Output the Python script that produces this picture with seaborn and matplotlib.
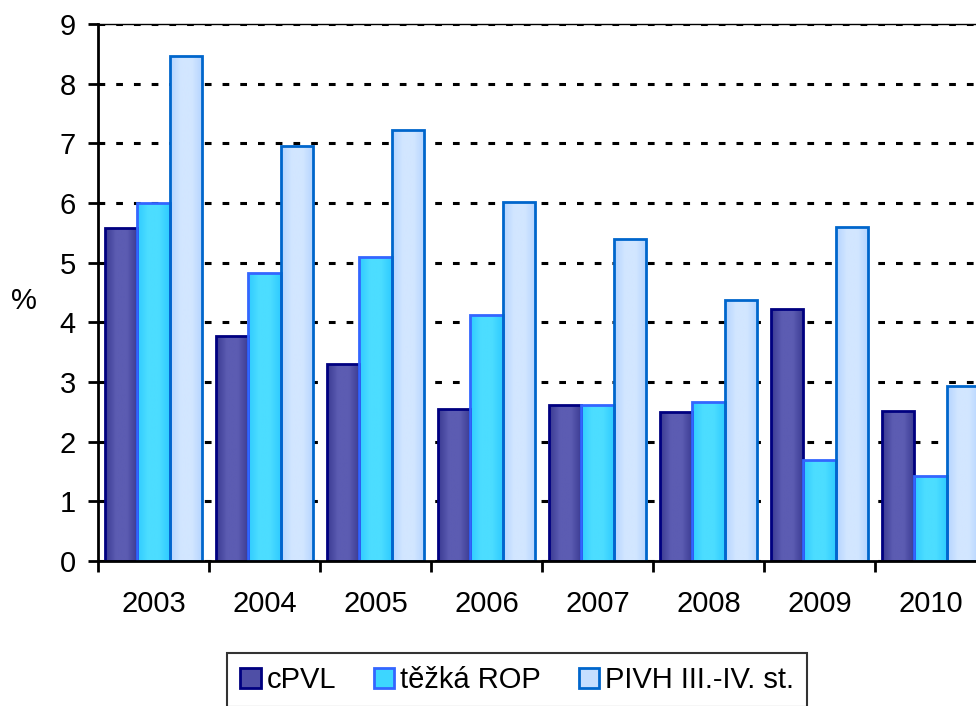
import matplotlib
matplotlib.use('Agg')
import matplotlib.pyplot as plt
from matplotlib.colors import LinearSegmentedColormap
import numpy as np
import pandas as pd
import seaborn as sns

## data ##
years = ['2003', '2004', '2005', '2006', '2007', '2008', '2009', '2010']
series = ['cPVL', 'těžká ROP', 'PIVH III.-IV. st.']
cpvl = [5.58, 3.77, 3.30, 2.55, 2.61, 2.50, 4.22, 2.51]
tezka_rop = [6.00, 4.83, 5.09, 4.13, 2.61, 2.66, 1.69, 1.42]
pivh = [8.46, 6.95, 7.22, 6.02, 5.40, 4.37, 5.60, 2.93]

df = pd.DataFrame({
    'rok': years * 3,
    'serie': [series[0]] * 8 + [series[1]] * 8 + [series[2]] * 8,
    'hodnota': cpvl + tezka_rop + pivh,
})

## style ##
sns.set_style('white')
plt.rcParams['font.family'] = ['Liberation Sans', 'DejaVu Sans']
plt.rcParams['text.color'] = 'black'
plt.rcParams['xtick.color'] = 'black'
plt.rcParams['ytick.color'] = 'black'
plt.rcParams['axes.labelcolor'] = 'black'
fill_colors = ['#4F4FA6', '#3DD6FF', '#C6DEFF']
edge_colors = ['#000080', '#3366FF', '#0066CC']
# edge -> centre -> edge shading of each bar
grad_colors = [('#3A3A92', '#5C5CB2'), ('#2FCBFF', '#4CDDFF'), ('#B4D4FF', '#D2E6FF')]
fs = 21

fig = plt.figure(figsize=(9.76, 7.06), dpi=100)
# plot area runs past the right edge of the picture, as in the original
ax = fig.add_axes([98 / 976, 145 / 706, 888 / 976, 537 / 706])

sns.barplot(data=df, x='rok', y='hodnota', hue='serie', hue_order=series,
            palette=fill_colors, width=0.875, gap=0, legend=True, ax=ax,
            saturation=1, errorbar=None)

ax.set_ylim(0, 9)
ax.set_xlim(-0.5, len(years) - 0.5)

# edge colours and horizontal gradient per series
for container, ec, (c_out, c_in) in zip(ax.containers, edge_colors, grad_colors):
    cmap = LinearSegmentedColormap.from_list('g', [c_out, c_in, c_in, c_out])
    for bar in container:
        bar.set_edgecolor(ec)
        bar.set_linewidth(2)
        x0, y0 = bar.get_x(), bar.get_y()
        w, h = bar.get_width(), bar.get_height()
        im = ax.imshow(np.linspace(0, 1, 64).reshape(1, -1), cmap=cmap, aspect='auto',
                       extent=[x0, x0 + w, y0, y0 + h], zorder=bar.get_zorder() - 0.01)
        im.set_clip_path(bar)
        bar.set_facecolor('none')
        bar.set_zorder(bar.get_zorder() + 0.01)

ax.set_ylim(0, 9)
ax.set_xlim(-0.5, len(years) - 0.5)
ax.set_aspect('auto')
ax.set_yticks(np.arange(0, 10, 1))
ax.set_yticklabels([str(i) for i in range(10)], fontsize=fs)

# ticks at group boundaries, labels at group centres
ax.set_xticks(np.arange(-0.5, len(years), 1))
ax.set_xticklabels([])
ax.set_xticks(np.arange(len(years)), minor=True)
ax.set_xticklabels(years, minor=True, fontsize=fs)
ax.tick_params(axis='x', which='major', direction='out', length=8, width=2, bottom=True)
ax.tick_params(axis='x', which='minor', length=0, pad=21)
ax.tick_params(axis='y', direction='out', length=7, width=2, left=True, pad=9)

ax.set_xlabel('')
ax.set_ylabel('%', fontsize=fs, rotation=0, va='center')
ax.yaxis.set_label_coords(-0.083, 0.485)

ax.set_axisbelow(True)
ax.yaxis.grid(True, color='black', linewidth=2.2, linestyle=(0, (2.2, 3.6)))
ax.xaxis.grid(False)

for side in ['left', 'bottom']:
    ax.spines[side].set_linewidth(2)
    ax.spines[side].set_color('black')
    ax.spines[side].set_zorder(5)
ax.spines['top'].set_linewidth(1)
ax.spines['top'].set_color('black')
ax.spines['right'].set_visible(False)

# legend below the plot
handles, labels = ax.get_legend_handles_labels()
ax.get_legend().remove()
for h, ec, fc in zip(handles, edge_colors, fill_colors):
    h.set_facecolor(fc)
    h.set_edgecolor(ec)
    h.set_linewidth(2)
leg = fig.legend(handles, labels, loc='upper center', bbox_to_anchor=(0.53, 0.075),
                 ncol=3, fontsize=fs, frameon=True, fancybox=False, edgecolor='black',
                 handlelength=0.7, handleheight=0.7, handletextpad=0.2,
                 columnspacing=1.3, borderpad=0.45, borderaxespad=0)
leg.get_frame().set_linewidth(1.5)

plt.savefig('out.png', dpi=100)
plt.close()
